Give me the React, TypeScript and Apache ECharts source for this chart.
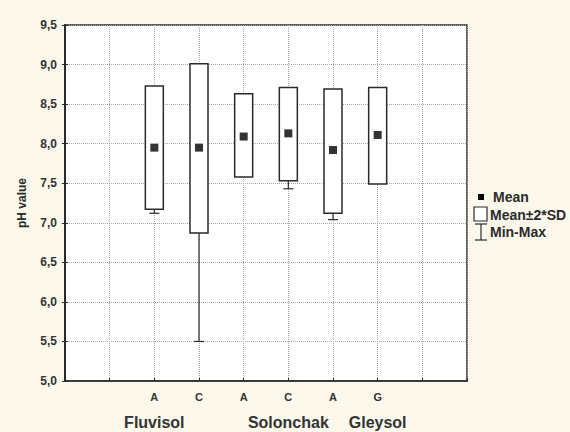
import React, { useEffect, useRef } from "react";
import * as echarts from "echarts";

// ---- data ----
const horizonLabels = ["A", "C", "A", "C", "A", "G"];
const horizonPositions = [2, 3, 4, 5, 6, 7];
const soilGroups = ["Fluvisol", "Solonchak", "Gleysol"];
const soilGroupPositions = [2, 5, 7];
const meanValues = [7.95, 7.95, 8.09, 8.13, 7.92, 8.11];
const lowerSD2 = [7.17, 6.87, 7.58, 7.53, 7.12, 7.49];
const upperSD2 = [8.73, 9.01, 8.63, 8.71, 8.69, 8.71];
const minValues = [7.12, 5.5, 7.6, 7.43, 7.04, 7.52];
const maxValues = [8.6, 8.8, 8.5, 8.55, 8.5, 8.55];
const yTicks = { min: 5, max: 9.5, interval: 0.5 };
const legendLabels = ["Mean", "Mean±2*SD", "Min-Max"];

const FONT = "'Liberation Sans', Arial, sans-serif";
const INK = "#2a2a2a";

export default function App() {
  const ref = useRef<HTMLDivElement>(null);

  useEffect(() => {
    if (!ref.current) return;
    const chart = echarts.init(ref.current, undefined, { renderer: "svg" });

    const boxData = horizonPositions.map((x, i) => [
      x,
      lowerSD2[i],
      upperSD2[i],
      minValues[i],
      maxValues[i],
    ]);
    const meanData = horizonPositions.map((x, i) => [x, meanValues[i]]);

    const xLabel = (v: number) => {
      const i = horizonPositions.indexOf(Math.round(v));
      return i >= 0 ? horizonLabels[i] : "";
    };
    const groupLabel = (v: number) => {
      const i = soilGroupPositions.indexOf(Math.round(v));
      return i >= 0 ? soilGroups[i] : "";
    };

    const option: any = {
      animation: false,
      backgroundColor: "#fcf8ec",
      grid: {
        left: 65,
        right: 103,
        top: 25,
        bottom: 51,
        show: true,
        backgroundColor: "#ffffff",
        borderColor: INK,
        borderWidth: 1.5,
      },
      xAxis: [
        {
          type: "value",
          min: 0,
          max: 9,
          interval: 1,
          axisLine: { show: true, lineStyle: { color: INK, width: 1.5 } },
          axisTick: { show: true, inside: true, length: 3, lineStyle: { color: INK } },
          splitLine: { show: true, lineStyle: { type: "dotted", color: "#a8a8a8", width: 1 } },
          axisLabel: {
            formatter: xLabel,
            margin: 10,
            fontFamily: FONT,
            fontWeight: "bold",
            fontSize: 11,
            color: "#333",
          },
        },
        {
          type: "value",
          min: 0,
          max: 9,
          interval: 1,
          position: "bottom",
          axisLine: { show: false },
          axisTick: { show: false },
          splitLine: { show: false },
          axisLabel: {
            formatter: groupLabel,
            margin: 33,
            fontFamily: FONT,
            fontWeight: "bold",
            fontSize: 16,
            color: "#333",
          },
        },
      ],
      yAxis: [
        {
          type: "value",
          min: yTicks.min,
          max: yTicks.max,
          interval: yTicks.interval,
          name: "pH value",
          nameLocation: "middle",
          nameGap: 37,
          nameTextStyle: { fontFamily: FONT, fontWeight: "bold", fontSize: 12, color: INK },
          axisLine: { show: true, lineStyle: { color: INK, width: 1.5 } },
          axisTick: { show: true, length: 3, lineStyle: { color: INK } },
          splitLine: { show: true, lineStyle: { type: "dotted", color: "#a8a8a8", width: 1 } },
          axisLabel: {
            formatter: (v: number) => v.toFixed(1).replace(".", ","),
            margin: 8,
            fontFamily: FONT,
            fontWeight: "bold",
            fontSize: 12,
            color: "#333",
          },
        },
        {
          type: "value",
          position: "right",
          min: yTicks.min,
          max: yTicks.max,
          interval: yTicks.interval,
          axisLine: { show: true, lineStyle: { color: INK, width: 2 } },
          axisTick: { show: true, length: 3, lineStyle: { color: INK } },
          splitLine: { show: false },
          axisLabel: { show: false },
        },
      ],
      series: [
        {
          name: "Mean±2*SD",
          type: "custom",
          xAxisIndex: 0,
          yAxisIndex: 0,
          data: boxData,
          encode: { x: 0, y: [1, 2, 3, 4] },
          renderItem: (params: any, api: any) => {
            const x = api.value(0);
            const lo = api.value(1);
            const hi = api.value(2);
            const mn = api.value(3);
            const mx = api.value(4);
            const pLo = api.coord([x, lo]);
            const pHi = api.coord([x, hi]);
            const w = 18;
            const cap = 10;
            const stroke = { stroke: INK, lineWidth: 1.2 };
            const children: any[] = [];
            if (mn < lo) {
              const pMn = api.coord([x, mn]);
              children.push({
                type: "line",
                shape: { x1: pLo[0], y1: pLo[1], x2: pMn[0], y2: pMn[1] },
                style: stroke,
              });
              children.push({
                type: "line",
                shape: { x1: pMn[0] - cap / 2, y1: pMn[1], x2: pMn[0] + cap / 2, y2: pMn[1] },
                style: stroke,
              });
            }
            if (mx > hi) {
              const pMx = api.coord([x, mx]);
              children.push({
                type: "line",
                shape: { x1: pHi[0], y1: pHi[1], x2: pMx[0], y2: pMx[1] },
                style: stroke,
              });
              children.push({
                type: "line",
                shape: { x1: pMx[0] - cap / 2, y1: pMx[1], x2: pMx[0] + cap / 2, y2: pMx[1] },
                style: stroke,
              });
            }
            children.push({
              type: "rect",
              shape: { x: pHi[0] - w / 2, y: pHi[1], width: w, height: pLo[1] - pHi[1] },
              style: { fill: "#ffffff", stroke: INK, lineWidth: 1.5 },
            });
            return { type: "group", children };
          },
        },
        {
          name: "Mean",
          type: "scatter",
          xAxisIndex: 0,
          yAxisIndex: 0,
          data: meanData,
          symbol: "rect",
          symbolSize: 8,
          itemStyle: { color: "#000000" },
          z: 5,
        },
      ],
      graphic: [
        { type: "rect", shape: { x: 478, y: 194, width: 6, height: 6 }, style: { fill: "#000" } },
        {
          type: "text",
          x: 493,
          y: 197,
          style: {
            text: legendLabels[0],
            fontFamily: FONT,
            fontWeight: "bold",
            fontSize: 14,
            fill: INK,
            verticalAlign: "middle",
          },
        },
        {
          type: "rect",
          shape: { x: 474, y: 207, width: 13, height: 14 },
          style: { fill: "#fff", stroke: INK, lineWidth: 1.2 },
        },
        {
          type: "text",
          x: 490,
          y: 215,
          style: {
            text: legendLabels[1],
            fontFamily: FONT,
            fontWeight: "bold",
            fontSize: 14,
            fill: INK,
            verticalAlign: "middle",
          },
        },
        { type: "line", shape: { x1: 475, y1: 224, x2: 487, y2: 224 }, style: { stroke: INK, lineWidth: 1.2 } },
        { type: "line", shape: { x1: 481, y1: 224, x2: 481, y2: 240 }, style: { stroke: INK, lineWidth: 1.2 } },
        { type: "line", shape: { x1: 475, y1: 240, x2: 487, y2: 240 }, style: { stroke: INK, lineWidth: 1.2 } },
        {
          type: "text",
          x: 490,
          y: 232,
          style: {
            text: legendLabels[2],
            fontFamily: FONT,
            fontWeight: "bold",
            fontSize: 14,
            fill: INK,
            verticalAlign: "middle",
          },
        },
      ],
    };

    chart.setOption(option);
    return () => chart.dispose();
  }, []);

  return (
    <div
      ref={ref}
      style={{ position: "fixed", left: 0, top: 0, width: 570, height: 432 }}
    />
  );
}
